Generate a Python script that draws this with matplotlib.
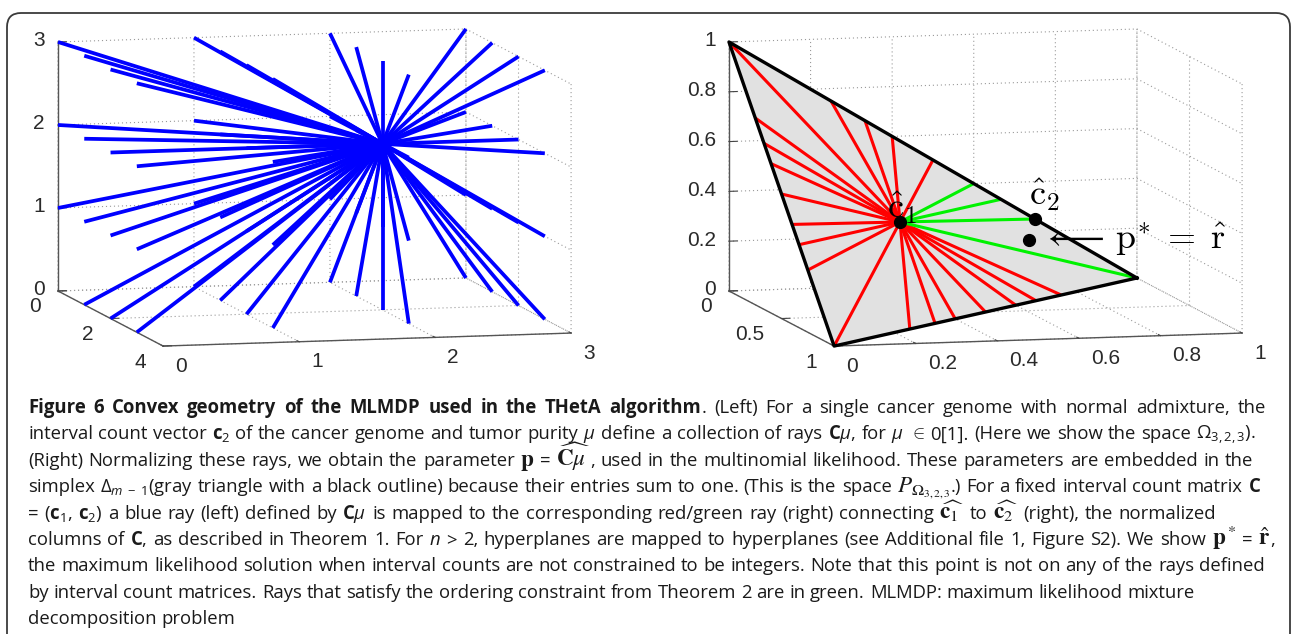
import numpy as np
import matplotlib
matplotlib.use("Agg")
import matplotlib.pyplot as plt
from matplotlib.patches import FancyBboxPatch
from matplotlib.transforms import IdentityTransform
from mpl_toolkits.mplot3d import proj3d
from mpl_toolkits.mplot3d.art3d import Poly3DCollection

# ---------------- data ----------------
C1 = [2, 2, 2]  # normal genome column c1
# cancer genome columns c2 (copy numbers per interval), left panel rays
C2_LEFT = ("001 002 003 010 011 012 013 020 021 022 023 030 031 032 033 "
           "100 101 102 103 110 111 112 113 120 121 122 123 130 131 132 133 "
           "200 201 202 203 210 211 212 213 220 221 223 230 231 232 233 "
           "300 301 302 303 310 311 312 313 320 321 322 323 330 331 332 333").split()
# right panel: normalized rays (red / green)
RED_C2 = "010 001 103 102 203 101 013 012 023 011 032 021 031 130 120 230 110 320 210 310".split()
GREEN_C2 = "302 201 301 100".split()
MARKED_C2 = "301"
P_STAR = [0.71, 0.10, 0.19]

LEFT_XTICKS = [0, 1, 2, 3]
LEFT_XTICKLABELS = ["0", "1", "2", "3"]
LEFT_YTICKS = [0, 2, 4]
LEFT_YTICKLABELS = ["0", "2", "4"]
LEFT_ZTICKS = [0, 1, 2, 3]
LEFT_ZTICKLABELS = ["0", "1", "2", "3"]
RIGHT_XTICKS = [0, 0.2, 0.4, 0.6, 0.8, 1]
RIGHT_XTICKLABELS = ["0", "0.2", "0.4", "0.6", "0.8", "1"]
RIGHT_YTICKS = [0, 0.5, 1]
RIGHT_YTICKLABELS = ["0", "0.5", "1"]
RIGHT_ZTICKS = [0, 0.2, 0.4, 0.6, 0.8, 1]
RIGHT_ZTICKLABELS = ["0", "0.2", "0.4", "0.6", "0.8", "1"]

CAPTION_LINES = [
    r"¤Figure ¤6 ¤Convex ¤geometry ¤of ¤the ¤MLMDP ¤used ¤in ¤the ¤THetA ¤algorithm|. (Left) For a single cancer genome with normal admixture, the",
    r"interval count vector $\mathbf{c}_2$ of the cancer genome and tumor purity $\mu$ define a collection of rays $\mathbf{C}\mu$, for $\mu$ $\in$ 0[1]. (Here we show the space $\Omega_{3,2,3}$).",
    r"(Right) Normalizing these rays, we obtain the parameter §$\mathbf{p}$ = §$\widehat{\mathbf{C}\mu}$|, used in the multinomial likelihood. These parameters are embedded in the",
    r"simplex $\Delta_{m\;-\;1}$(gray triangle with a black outline) because their entries sum to one. (This is the space §$P_{\Omega_{3,2,3}}$|.) For a fixed interval count matrix $\mathbf{C}$",
    r"= ($\mathbf{c}_1$, $\mathbf{c}_2$) a blue ray (left) defined by $\mathbf{C}\mu$ is mapped to the corresponding red/green ray (right) connecting §$\widehat{\mathbf{c}_1}$ to §$\widehat{\mathbf{c}_2}$ (right), the normalized",
    r"columns of $\mathbf{C}$, as described in Theorem 1. For $n$ > 2, hyperplanes are mapped to hyperplanes (see Additional file 1, Figure S2). We show §$\mathbf{p}^*$ = §$\hat{\mathbf{r}}$|,",
    "the maximum likelihood solution when interval counts are not constrained to be integers. Note that this point is not on any of the rays defined",
    "by interval count matrices. Rays that satisfy the ordering constraint from Theorem 2 are in green. MLMDP: maximum likelihood mixture",
    "decomposition problem",
]
LINE_RIGHT = [1266, 1256, 1253, 1261, 1216, 1275, 1265, 1195, None]

# ---------------- setup ----------------
W, H, DPI = 1293, 634, 100
plt.rcParams["font.family"] = ["Liberation Sans", "DejaVu Sans"]
plt.rcParams["mathtext.fontset"] = "custom"
plt.rcParams["mathtext.rm"] = "Open Sans"
plt.rcParams["mathtext.it"] = "Open Sans:italic"
plt.rcParams["mathtext.bf"] = "Open Sans:bold"

fig = plt.figure(figsize=(W / DPI, H / DPI), dpi=DPI)
fig.patch.set_facecolor("white")

ELEV, AZIM = 7.42, -103.85
BOX = (420, 439, 251)
GRID_LS = (0, (1.0, 2.6))
TICK_FS = 15
TICK_COLOR = "#2a2a2a"


def vec(s):
    return np.array([int(ch) for ch in s], float)


def style_axes(ax, xl, yl, zl, xt, yt, zt):
    ax.set_proj_type("ortho")
    ax.computed_zorder = False
    ax.patch.set_alpha(0)
    ax.set_box_aspect(BOX)
    ax.view_init(elev=ELEV, azim=AZIM)
    for setter, lim in ((ax.set_xlim, xl), (ax.set_ylim, yl), (ax.set_zlim, zl)):
        try:
            setter(*lim, view_margin=0)
        except TypeError:
            setter(*lim)
    ax.set_xticks(xt)
    ax.set_yticks(yt)
    ax.set_zticks(zt)
    ax.set_xticklabels([""] * len(xt))
    ax.set_yticklabels([""] * len(yt))
    ax.set_zticklabels([""] * len(zt))
    for axis in (ax.xaxis, ax.yaxis, ax.zaxis):
        axis.set_pane_color((1, 1, 1, 0))
        axis.pane.set_edgecolor((1, 1, 1, 0))
        axis.line.set_color("#555555")
        axis.line.set_linewidth(1.0)
        axis._axinfo["grid"]["color"] = "#9a9a9a"
        axis._axinfo["grid"]["linestyle"] = GRID_LS
        axis._axinfo["grid"]["linewidth"] = 0.8
        axis._axinfo["tick"]["inward_factor"] = 0.0
        axis._axinfo["tick"]["outward_factor"] = 0.25
    ax.tick_params(colors="#444444")


def project(ax, pts):
    pts = np.asarray(pts, float)
    M = ax.get_proj()
    xs, ys, _ = proj3d.proj_transform(pts[:, 0], pts[:, 1], pts[:, 2], M)
    return ax.transData.transform(np.column_stack([xs, ys]))


def fit_axes(ax, pts, targets_img, iters=3):
    pts = np.asarray(pts, float)
    t = np.asarray(targets_img, float).copy()
    t[:, 1] = H - t[:, 1]
    for _ in range(iters):
        fig.canvas.draw()
        pos = ax.get_position()
        cx = (pos.x0 + pos.x1) / 2 * W
        cy = (pos.y0 + pos.y1) / 2 * H
        s = pos.width * W
        cur = project(ax, pts)
        m = (cur - [cx, cy]) / s
        mm, tm = m.mean(0), t.mean(0)
        s_new = ((m - mm) * (t - tm)).sum() / ((m - mm) ** 2).sum()
        c_new = tm - s_new * mm
        ax.set_position([(c_new[0] - s_new / 2) / W, (c_new[1] - s_new / 2) / H,
                         s_new / W, s_new / H])


def put_labels(ax, pts, labels, dx, dy_down, ha):
    p = project(ax, pts)
    for (px, py), lab in zip(p, labels):
        fig.text(px + dx, py - dy_down, lab, ha=ha, va="center", fontsize=TICK_FS,
                 color=TICK_COLOR, transform=IdentityTransform())


# ---------------- left panel ----------------
axL = fig.add_axes([0.0, 0.35, 0.5, 0.65], projection="3d")
c1 = np.array(C1, float)
for s in C2_LEFT:
    c2 = vec(s)
    axL.plot([c1[0], c2[0]], [c1[1], c2[1]], [c1[2], c2[2]], color=(0, 0, 1),
             lw=2.7, solid_capstyle="butt", zorder=2)
style_axes(axL, (0, 3), (4, 0), (0, 3), LEFT_XTICKS, LEFT_YTICKS, LEFT_ZTICKS)

# ---------------- right panel ----------------
axR = fig.add_axes([0.5, 0.35, 0.5, 0.65], projection="3d")
c1h = c1 / c1.sum()
tri = Poly3DCollection([[(1, 0, 0), (0, 1, 0), (0, 0, 1)]], facecolor="#e1e1e1",
                       edgecolor="none", zorder=1)
axR.add_collection3d(tri)
for s in RED_C2:
    e = vec(s) / vec(s).sum()
    axR.plot([c1h[0], e[0]], [c1h[1], e[1]], [c1h[2], e[2]], color=(1, 0, 0),
             lw=2.2, solid_capstyle="butt", zorder=2)
for s in GREEN_C2:
    e = vec(s) / vec(s).sum()
    axR.plot([c1h[0], e[0]], [c1h[1], e[1]], [c1h[2], e[2]], color=(0, 0.95, 0),
             lw=2.2, solid_capstyle="butt", zorder=3)
axR.plot([1, 0, 0, 1], [0, 1, 0, 0], [0, 0, 1, 0], color="black", lw=2.4, zorder=4)
c2m = vec(MARKED_C2) / vec(MARKED_C2).sum()
pts_dots = np.array([c1h, c2m, P_STAR])
axR.plot(pts_dots[:, 0], pts_dots[:, 1], pts_dots[:, 2], "o", color="black", ms=8.5,
         zorder=5, linestyle="none")
style_axes(axR, (0, 1), (1, 0), (0, 1), RIGHT_XTICKS, RIGHT_YTICKS, RIGHT_ZTICKS)

# ---------------- placement of the two 3-D boxes ----------------
XV, YV, ZV = np.array([408, -13]), np.array([105, 55]), np.array([0, -249])
o = np.array([58, 291])
fit_axes(axL, [(0, 0, 0), (3, 0, 0), (0, 4, 0), (0, 0, 3)],
         [o, o + XV, o + YV, o + ZV])
o2 = np.array([729, 291])
fit_axes(axR, [(0, 0, 0), (1, 0, 0), (0, 1, 0), (0, 0, 1)],
         [o2, o2 + XV, o2 + YV, o2 + ZV])
fig.canvas.draw()

# tick labels placed the way the original (MATLAB) figure places them
for ax, (xt, xtl, yt, ytl, zt, ztl, yfront) in (
        (axL, (LEFT_XTICKS, LEFT_XTICKLABELS, LEFT_YTICKS, LEFT_YTICKLABELS,
               LEFT_ZTICKS, LEFT_ZTICKLABELS, 4)),
        (axR, (RIGHT_XTICKS, RIGHT_XTICKLABELS, RIGHT_YTICKS, RIGHT_YTICKLABELS,
               RIGHT_ZTICKS, RIGHT_ZTICKLABELS, 1))):
    put_labels(ax, [(v, yfront, 0) for v in xt], xtl, 12, 20, "left")
    put_labels(ax, [(0, v, 0) for v in yt], ytl, -17, 16, "right")
    put_labels(ax, [(0, 0, v) for v in zt], ztl, -13, -1, "right")

# labels on the right panel
d = project(axR, pts_dots)
lab_kw = dict(math_fontfamily="cm", fontsize=26, color="black", ha="left",
              va="baseline", transform=IdentityTransform())
fig.text(d[0, 0] - 13, d[0, 1] + 4, r"$\hat{\mathrm{c}}_1$", **lab_kw)
fig.text(d[1, 0] - 6, d[1, 1] + 14, r"$\hat{\mathrm{c}}_2$", **lab_kw)
fig.text(d[2, 0] + 12, d[2, 1] - 9,
         r"$\longleftarrow\,\mathrm{p}^{*}\;=\;\hat{\mathrm{r}}$", **lab_kw)

# ---------------- frame ----------------
frame = FancyBboxPatch((7, -30), 1283, H - 13 + 30,
                       boxstyle="round,pad=0,rounding_size=14",
                       transform=IdentityTransform(), facecolor="none",
                       edgecolor="#3a3a3a", lw=1.3)
fig.add_artist(frame)

# ---------------- caption ----------------
renderer = fig.canvas.get_renderer()
X_LEFT = 28
BASE0, STEP = 413, 26.4
SERIF_SCALE = 1.25


def piece_kw(p, size):
    if p.startswith("¤"):
        return p[1:], dict(fontfamily="Open Sans", fontweight="bold", fontsize=size)
    if p.startswith("§"):
        return p[1:], dict(fontfamily="Open Sans", fontsize=size * SERIF_SCALE,
                           math_fontfamily="stix")
    return p, dict(fontfamily="Open Sans", fontsize=size)


def build_line(line, size):
    words = []
    for w in line.split():
        pieces = []
        for p in w.split("|"):
            txt, kw = piece_kw(p, size)
            t = fig.text(0, 0, txt, ha="left", va="baseline",
                         transform=IdentityTransform(), color="#1a1a1a", **kw)
            wdt = t.get_window_extent(renderer).width
            pieces.append((t, wdt))
        words.append(pieces)
    return words


def space_width(size):
    a = fig.text(0, 0, "a a", fontfamily="Open Sans", fontsize=size)
    b = fig.text(0, 0, "aa", fontfamily="Open Sans", fontsize=size)
    w = a.get_window_extent(renderer).width - b.get_window_extent(renderer).width
    a.remove()
    b.remove()
    return w


# fit the font size so that no line has to be squeezed
size0 = 11.0
sp0 = space_width(size0)
ratios = []
for line, right in zip(CAPTION_LINES, LINE_RIGHT):
    words = build_line(line, size0)
    nat = sum(w for ws in words for _, w in ws) + sp0 * (len(words) - 1)
    for ws in words:
        for t, _ in ws:
            t.remove()
    if right is not None:
        ratios.append((right - X_LEFT) / nat)
size = size0 * float(min(ratios))
sp = space_width(size)

for i, (line, right) in enumerate(zip(CAPTION_LINES, LINE_RIGHT)):
    words = build_line(line, size)
    total = sum(w for ws in words for _, w in ws)
    gap = sp
    if right is not None and len(words) > 1:
        gap = (right - X_LEFT - total) / (len(words) - 1)
    x = X_LEFT
    y = H - (BASE0 + STEP * i)
    for ws in words:
        for t, wdt in ws:
            t.set_position((x, y))
            x += wdt
        x += gap

fig.savefig("out.png", dpi=DPI, facecolor="white")
